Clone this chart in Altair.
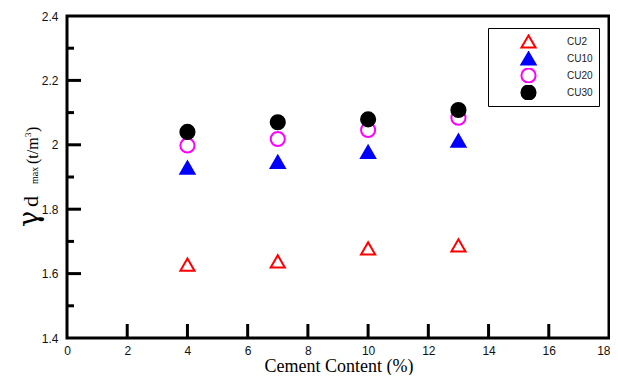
import altair as alt
import pandas as pd

cement = [4, 7, 10, 13]
cu2 = [1.628, 1.638, 1.678, 1.688]
cu10 = [1.929, 1.947, 1.978, 2.013]
cu20 = [1.998, 2.018, 2.046, 2.084]
cu30 = [2.040, 2.070, 2.079, 2.108]
series = ["CU2", "CU10", "CU20", "CU30"]

x_labels = [0, 2, 4, 6, 8, 10, 12, 14, 16, 18]
x_ticks = [2, 4, 6, 8, 10, 12, 14, 16]
y_labels = [1.4, 1.6, 1.8, 2.0, 2.2, 2.4]
y_major = [1.6, 1.8, 2.0, 2.2]
y_minor = [1.5, 1.7, 1.9, 2.1, 2.3]
x_title = "Cement Content (%)"

rows = []
for name, vals in zip(series, [cu2, cu10, cu20, cu30]):
    for c, v in zip(cement, vals):
        rows.append({"series": name, "cement": c, "gamma": v})
df = pd.DataFrame(rows)

xs = alt.Scale(domain=[0, 18], nice=False, zero=False)
ys = alt.Scale(domain=[1.4, 2.4], nice=False, zero=False)

xax = alt.Axis(
    values=x_labels, ticks=False, domain=False, grid=False, labelFlush=False,
    labelAlign=alt.expr("datum.value == 18 ? 'right' : 'center'"),
    labelOffset=alt.expr("datum.value == 18 ? 1 : 0"),
    labelFont="Liberation Sans", labelFontSize=12, labelColor="#111",
    labelPadding=7, title="", format="d")
yax = alt.Axis(
    values=y_labels, ticks=False, domain=False, grid=False, labelFlush=False,
    labelFont="Liberation Sans", labelFontSize=12, labelColor="#111",
    labelPadding=9, format="~g", title="")

leg = alt.Legend(
    title=None, orient="none", legendX=421, legendY=12,
    padding=6, symbolOffset=26, labelOffset=30, rowPadding=2, clipHeight=15,
    strokeColor="black", fillColor="white",
    symbolSize=200, symbolStrokeWidth=2,
    labelFont="Liberation Sans", labelFontSize=10, labelColor="#222",
)

points = alt.Chart(df).mark_point(size=200, strokeWidth=2, opacity=1).encode(
    x=alt.X("cement:Q", scale=xs, axis=xax),
    y=alt.Y("gamma:Q", scale=ys, axis=yax),
    shape=alt.Shape("series:N", sort=series, scale=alt.Scale(
        domain=series, range=["triangle-up", "triangle-up", "circle", "circle"]), legend=leg),
    fill=alt.Fill("series:N", sort=series, scale=alt.Scale(
        domain=series, range=["transparent", "#0000ff", "transparent", "#000000"]), legend=leg),
    stroke=alt.Stroke("series:N", sort=series, scale=alt.Scale(
        domain=series, range=["#ff0000", "#0000ff", "#ff00ff", "#000000"]), legend=leg),
)

xt = alt.Chart(pd.DataFrame({"v": x_ticks})).mark_rule(color="black", strokeWidth=3).encode(
    x=alt.X("v:Q", scale=xs, axis=xax), y=alt.value(322), y2=alt.value(308))
ymaj = alt.Chart(pd.DataFrame({"v": y_major})).mark_rule(color="black", strokeWidth=3).encode(
    y=alt.Y("v:Q", scale=ys, axis=yax), x=alt.value(0), x2=alt.value(14))
ymin = alt.Chart(pd.DataFrame({"v": y_minor})).mark_rule(color="black", strokeWidth=3).encode(
    y=alt.Y("v:Q", scale=ys, axis=yax), x=alt.value(0), x2=alt.value(7))

def rtext(txt, x, y, size, font="Liberation Serif", angle=270, align="left"):
    return alt.Chart(pd.DataFrame({"t": [txt]})).mark_text(
        angle=angle, align=align, baseline="alphabetic", font=font,
        fontSize=size, color="black").encode(
        text="t:N", x=alt.value(x), y=alt.value(y))

t1 = rtext("γ", -29, 211, 27, font="DejaVu Serif")
t2 = rtext("d", -29, 191, 22)
t3 = rtext("max", -29, 168, 10)
t4 = rtext("(t/m", -29, 148, 16)
t5 = rtext("3", -36, 121, 9)
t6 = rtext(")", -29, 116, 16)
xtitle = rtext(x_title, 272, 356, 18, angle=0, align="center")

chart = alt.layer(xt, ymaj, ymin, points, t1, t2, t3, t4, t5, t6, xtitle).properties(
    width=542, height=322,
    autosize=alt.AutoSizeParams(type="none"),
    padding={"left": 59, "top": 8, "right": 1, "bottom": 37},
).configure_view(stroke="black", strokeWidth=3)

chart.save("out.html", embed_options={"renderer": "svg", "actions": False})
